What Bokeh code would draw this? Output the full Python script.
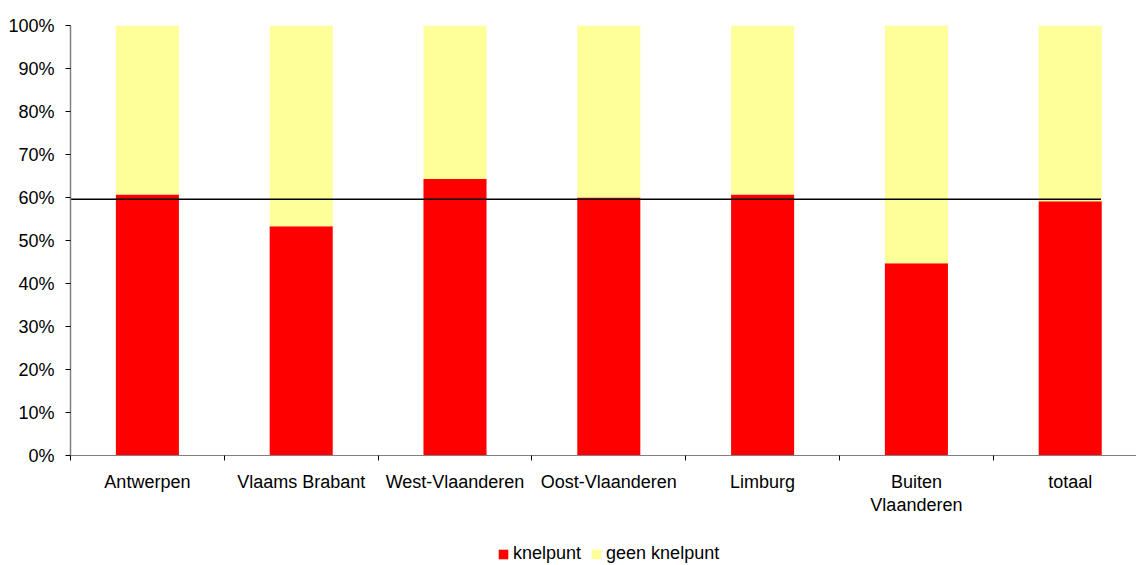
from bokeh.plotting import figure
from bokeh.layouts import column
from bokeh.models import (Range1d, FixedTicker, LinearAxis, Legend, LegendItem,
                          ColumnDataSource)
from bokeh.embed import file_html
from bokeh.resources import INLINE

# ---- data ----
categories = ["Antwerpen", "Vlaams Brabant", "West-Vlaanderen", "Oost-Vlaanderen",
              "Limburg", "Buiten\nVlaanderen", "totaal"]
knelpunt = [60.7, 53.3, 64.3, 60.0, 60.7, 44.7, 59.1]
geen_knelpunt = [round(100 - v, 1) for v in knelpunt]
average = 59.6
y_ticks = list(range(0, 101, 10))
y_tick_labels = [f"{t}%" for t in y_ticks]
series_names = ["knelpunt", "geen knelpunt"]
colors = ["#FF0000", "#FFFF99"]

FONT = "Liberation Sans"
FS = "18px"

x = [i + 0.5 for i in range(len(categories))]
src = ColumnDataSource(dict(
    x=x,
    k=knelpunt,
    top=[a + b for a, b in zip(knelpunt, geen_knelpunt)],
))

p = figure(width=1136, height=523, output_backend="svg", toolbar_location=None,
           x_range=Range1d(0, 6.931), y_range=Range1d(0, 100),
           x_axis_type=None, y_axis_type=None,
           min_border_left=70, min_border_right=0, min_border_top=25,
           min_border_bottom=68)
p.outline_line_color = None
p.grid.visible = False
p.background_fill_color = "white"
p.border_fill_color = "white"

r1 = p.vbar(x="x", bottom=0, top="k", width=0.41, source=src,
            fill_color=colors[0], line_color=None)
r2 = p.vbar(x="x", bottom="k", top="top", width=0.41, source=src,
            fill_color=colors[1], line_color=None)

# average line
p.segment(x0=[0], x1=[len(categories) - 0.3], y0=[average], y1=[average],
          line_color="black", line_width=1.6)

# y axis
yax = LinearAxis(ticker=FixedTicker(ticks=y_ticks, minor_ticks=[]))
yax.major_label_overrides = {t: l for t, l in zip(y_ticks, y_tick_labels)}
yax.axis_line_color = "#808080"
yax.axis_line_width = 1.5
yax.major_tick_line_color = "#000000"
yax.major_tick_in = 0
yax.major_tick_out = 5
yax.major_label_standoff = 11
yax.major_label_text_font = FONT
yax.major_label_text_font_size = FS
yax.major_label_text_color = "#000000"
p.add_layout(yax, "left")

# x axis: ticks between categories, labels at centres
xax = LinearAxis(ticker=FixedTicker(ticks=x, minor_ticks=list(range(len(categories) + 1))))
xax.major_label_overrides = {xv: c for xv, c in zip(x, categories)}
xax.axis_line_color = "#808080"
xax.axis_line_width = 1.2
xax.major_tick_line_color = None
xax.major_tick_in = 0
xax.major_tick_out = 0
xax.minor_tick_line_color = "#000000"
xax.minor_tick_in = 0
xax.minor_tick_out = 5
xax.major_label_standoff = 11
xax.major_label_text_font = FONT
xax.major_label_text_font_size = FS
xax.major_label_text_color = "#000000"
xax.major_label_text_line_height = 1.15
p.add_layout(xax, "below")

# ---- legend strip ----
pl = figure(width=1136, height=42, output_backend="svg", toolbar_location=None,
            x_range=Range1d(0, 1), y_range=Range1d(0, 1),
            x_axis_type=None, y_axis_type=None,
            min_border_left=70, min_border_right=0, min_border_top=0,
            min_border_bottom=0)
pl.outline_line_color = None
pl.grid.visible = False
pl.border_fill_color = "white"
# legend-only swatches (zero-height, outside the visible range)
lr = [pl.vbar(x=[-5], bottom=[0], top=[0], width=0.1, fill_color=c, line_color=None)
      for c in colors]

legend = Legend(items=[LegendItem(label=n, renderers=[r]) for n, r in zip(series_names, lr)],
                orientation="horizontal", location=(427, 1))
legend.glyph_width = 12
legend.glyph_height = 12
legend.label_standoff = 4
legend.spacing = 9
legend.padding = 0
legend.margin = 0
legend.border_line_color = None
legend.background_fill_alpha = 0
legend.label_text_font = FONT
legend.label_text_font_size = FS
legend.label_text_color = "#000000"
pl.add_layout(legend, "center")

layout = column(p, pl, spacing=0)
open("out.html", "w").write(file_html(layout, INLINE))
